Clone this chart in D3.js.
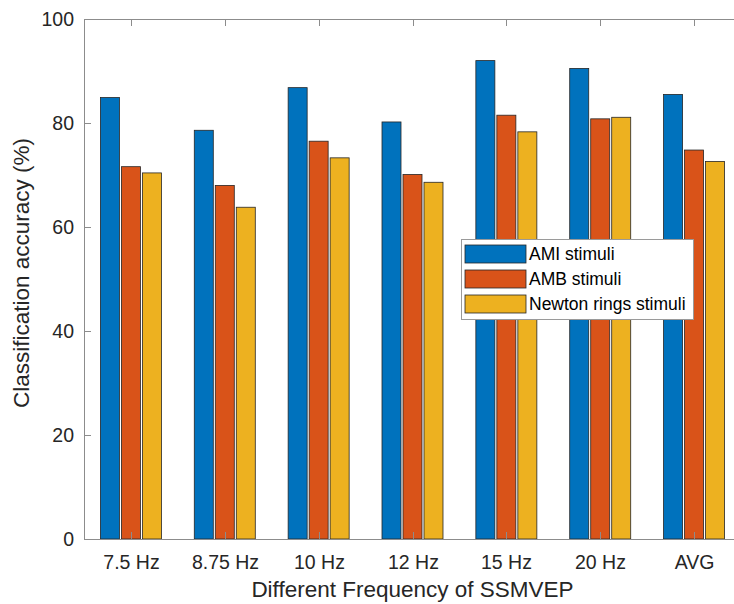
<!DOCTYPE html>
<html>
<head>
<meta charset="utf-8">
<script src="https://cdn.jsdelivr.net/npm/d3@7"></script>
<style>
  body { margin: 0; background: #fff; }
  text { font-family: "Liberation Sans", Arial, sans-serif; fill: #262626; }
</style>
</head>
<body>
<div id="chart"></div>
<script>
// values
var categories = ["7.5 Hz", "8.75 Hz", "10 Hz", "12 Hz", "15 Hz", "20 Hz", "AVG"];
var seriesNames = ["AMI stimuli", "AMB stimuli", "Newton rings stimuli"];
var amiValues = [84.9, 78.6, 86.8, 80.2, 92.0, 90.5, 85.5];
var ambValues = [71.6, 68.0, 76.5, 70.1, 81.5, 80.8, 74.8];
var newtonValues = [70.4, 63.8, 73.3, 68.6, 78.3, 81.1, 72.6];
var yTicks = [0, 20, 40, 60, 80, 100];
var colors = ["#0072BD", "#D95319", "#EDB120"];

var allValues = [amiValues, ambValues, newtonValues];

var width = 734, height = 604;
var margin = { top: 19, left: 84 };
var plotRight = 741, plotBottom = 539;

var svg = d3.select("#chart").append("svg")
  .attr("width", width)
  .attr("height", height)
  .style("display", "block");

svg.append("rect").attr("width", width).attr("height", height).attr("fill", "#fff");

var x = d3.scaleBand()
  .domain(categories)
  .range([margin.left, plotRight])
  .padding(0);

var inner = d3.scaleBand()
  .domain(seriesNames)
  .range([-30.5, 30.5])
  .paddingInner(0.095);

var y = d3.scaleLinear()
  .domain([0, 100])
  .range([plotBottom, margin.top]);

// bars
var groups = svg.selectAll(".group")
  .data(categories)
  .enter().append("g")
  .attr("class", "group")
  .attr("transform", function (d) { return "translate(" + (x(d) + x.bandwidth() / 2) + ",0)"; });

groups.selectAll("rect")
  .data(function (d, i) {
    return seriesNames.map(function (s, j) { return { series: s, idx: j, val: allValues[j][i] }; });
  })
  .enter().append("rect")
  .attr("x", function (d) { return inner(d.series); })
  .attr("width", inner.bandwidth())
  .attr("y", function (d) { return y(d.val); })
  .attr("height", function (d) { return y(0) - y(d.val); })
  .attr("fill", function (d) { return colors[d.idx]; })
  .attr("stroke", "#262626")
  .attr("stroke-width", 0.8);

// axes box
var axisColor = "#8c8c8c";
svg.append("line").attr("x1", margin.left).attr("x2", plotRight)
  .attr("y1", margin.top + 0.5).attr("y2", margin.top + 0.5)
  .attr("stroke", axisColor);
svg.append("line").attr("x1", margin.left).attr("x2", plotRight)
  .attr("y1", plotBottom + 0.5).attr("y2", plotBottom + 0.5)
  .attr("stroke", axisColor);
svg.append("line").attr("x1", margin.left + 0.5).attr("x2", margin.left + 0.5)
  .attr("y1", margin.top).attr("y2", plotBottom)
  .attr("stroke", axisColor);

// y ticks and labels
yTicks.forEach(function (t) {
  var yy = Math.round(y(t)) + 0.5;
  svg.append("line").attr("x1", margin.left).attr("x2", margin.left + 7)
    .attr("y1", yy).attr("y2", yy).attr("stroke", axisColor);
  svg.append("text")
    .attr("x", margin.left - 10)
    .attr("y", y(t) + 7)
    .attr("text-anchor", "end")
    .attr("font-size", "19.5px")
    .text(t);
});

// x ticks (inward, bottom and top) and labels
categories.forEach(function (c) {
  var cx = Math.round(x(c) + x.bandwidth() / 2) + 0.5;
  svg.append("line").attr("x1", cx).attr("x2", cx)
    .attr("y1", plotBottom).attr("y2", plotBottom - 7).attr("stroke", axisColor);
  svg.append("line").attr("x1", cx).attr("x2", cx)
    .attr("y1", margin.top).attr("y2", margin.top + 7).attr("stroke", axisColor);
  svg.append("text")
    .attr("x", cx)
    .attr("y", plotBottom + 30)
    .attr("text-anchor", "middle")
    .attr("font-size", "19.5px")
    .text(c);
});

// axis titles
svg.append("text")
  .attr("x", (margin.left + plotRight) / 2)
  .attr("y", 597)
  .attr("text-anchor", "middle")
  .attr("font-size", "22.5px")
  .text("Different Frequency of SSMVEP");

svg.append("text")
  .attr("transform", "translate(29," + 273 + ") rotate(-90)")
  .attr("text-anchor", "middle")
  .attr("font-size", "22.5px")
  .text("Classification accuracy (%)");

// legend
var legend = svg.append("g").attr("transform", "translate(461,239)");
legend.append("rect")
  .attr("x", 0.5).attr("y", 0.5)
  .attr("width", 232).attr("height", 80)
  .attr("fill", "#fff")
  .attr("stroke", "#9a9a9a");

seriesNames.forEach(function (s, i) {
  var row = legend.append("g").attr("transform", "translate(4," + (6 + i * 25) + ")");
  row.append("rect")
    .attr("width", 61).attr("height", 18)
    .attr("fill", colors[i])
    .attr("stroke", "#262626")
    .attr("stroke-width", 0.8);
  row.append("text")
    .attr("x", 64)
    .attr("y", 15)
    .attr("font-size", "17.5px")
    .style("fill", "#000")
    .text(s);
});
</script>
</body>
</html>
